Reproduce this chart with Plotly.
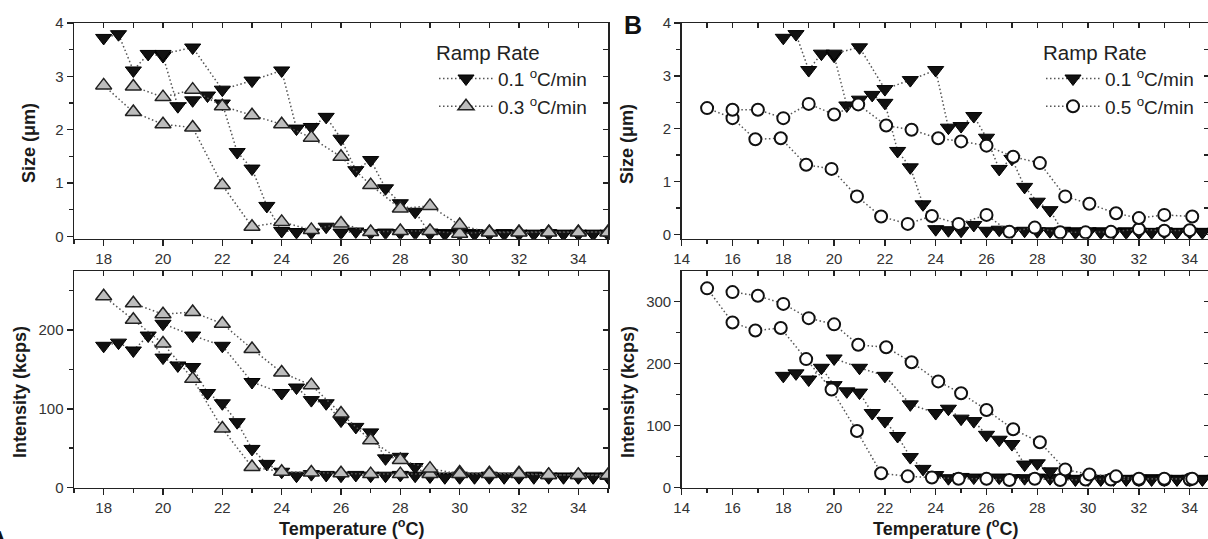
import plotly.graph_objects as go

# ---------------- data ----------------
# 0.1 C/min (black down triangles) - heating then cooling
T_01_heat = [18, 18.5, 19, 19.5, 20, 20.5, 21, 21.5, 22, 22.5, 23, 23.5, 24, 24.5, 25, 25.5,
             26, 26.5, 27, 27.5, 28, 28.5, 29, 29.5, 30, 30.5, 31, 31.5, 32, 32.5, 33, 33.5,
             34, 34.5, 35]
size_01_heat = [3.72, 3.79, 3.11, 3.42, 3.38, 2.44, 2.55, 2.64, 2.49, 1.58, 1.27, 0.57, 0.10,
                0.08, 0.07, 0.18, 0.07, 0.09, 0.06, 0.07, 0.06, 0.06, 0.07, 0.06, 0.06, 0.06,
                0.05, 0.06, 0.05, 0.05, 0.06, 0.05, 0.05, 0.05, 0.05]
int_01_heat = [180, 184, 174, 193, 165, 155, 153, 120, 107, 83, 49, 30, 20, 15, 17, 16, 15, 16,
               15, 15, 16, 15, 15, 14, 15, 14, 15, 14, 14, 15, 14, 14, 14, 14, 14]
T_01_cool = [35, 34.5, 34, 33.5, 33, 32.5, 32, 31.5, 31, 30.5, 30, 29.5, 29, 28.5, 28, 27.5,
             27, 26.5, 26, 25.5, 25, 24.5, 24, 23, 22, 21, 20]
size_01_cool = [0.04, 0.04, 0.04, 0.04, 0.04, 0.04, 0.04, 0.04, 0.04, 0.04, 0.04, 0.04, 0.05,
                0.46, 0.62, 0.90, 1.43, 1.24, 1.83, 2.24, 2.05, 2.02, 3.11, 2.92, 2.75, 3.54, 3.42]
int_01_cool = [13, 13, 13, 13, 13, 13, 13, 13, 13, 13, 13, 13, 14, 26, 39, 37, 70, 77, 85, 107,
               111, 127, 120, 134, 180, 193, 208]

# 0.3 C/min (grey up triangles)
T_03_heat = [18, 19, 20, 21, 22, 23, 24, 25, 26, 27, 28, 29, 30, 31, 32, 33, 34, 35]
size_03_heat = [2.83, 2.33, 2.10, 2.04, 0.96, 0.18, 0.27, 0.12, 0.24, 0.08, 0.10, 0.10, 0.05,
                0.08, 0.08, 0.08, 0.08, 0.08]
int_03_heat = [243, 213, 183, 138, 75, 26, 20, 19, 18, 17, 17, 17, 19, 18, 18, 16, 16, 15]
T_03_cool = [35, 34, 33, 32, 31, 30, 29, 28, 27, 26, 25, 24, 23, 22, 21, 20, 19]
size_03_cool = [0.07, 0.07, 0.07, 0.07, 0.07, 0.21, 0.57, 0.52, 0.96, 1.49, 1.85, 2.10, 2.27,
                2.44, 2.75, 2.61, 2.81]
int_03_cool = [16, 16, 16, 17, 17, 17, 24, 35, 60, 94, 130, 146, 176, 208, 223, 220, 234]

# 0.5 C/min (open circles)
T_05_heat = [15, 16, 16.9, 17.9, 18.9, 19.9, 20.9, 21.85, 22.9, 23.85, 24.9, 26, 26.9, 27.9,
             28.9, 29.9, 30.9, 32, 33, 34]
size_05_heat = [2.39, 2.20, 1.80, 1.82, 1.32, 1.24, 0.72, 0.34, 0.20, 0.35, 0.20, 0.37, 0.05,
                0.13, 0.04, 0.04, 0.05, 0.10, 0.07, 0.08]
int_05_heat = [321, 266, 253, 257, 207, 158, 91, 23, 18, 16, 14, 14, 12, 14, 12, 13, 13, 13, 13, 13]
T_05_cool = [34.1, 33, 32, 31.1, 30.05, 29.1, 28.1, 27.05, 26, 25, 24.1, 23.05, 22.05, 20.95,
             20, 19, 18, 17, 16]
size_05_cool = [0.34, 0.37, 0.31, 0.40, 0.58, 0.72, 1.35, 1.47, 1.68, 1.76, 1.82, 1.98, 2.06,
                2.46, 2.27, 2.47, 2.20, 2.36, 2.36]
int_05_cool = [14, 14, 14, 18, 21, 29, 73, 94, 125, 152, 171, 202, 226, 230, 263, 273, 296, 309, 315]

label_01 = "0.1 <sup>o</sup>C/min"
label_03 = "0.3 <sup>o</sup>C/min"
label_05 = "0.5 <sup>o</sup>C/min"

# ---------------- styles ----------------
W, H = 1208, 539
FONT = "Liberation Sans, Arial, sans-serif"
AX = "#222222"
DOT = dict(color="#555555", width=1.5, dash="1.5px,2.5px")

black_m = dict(symbol="triangle-down", size=14, color="#111111", line=dict(color="#000000", width=1))
grey_m = dict(symbol="triangle-up", size=14, color="#bdbdbd", line=dict(color="#222222", width=1.5))
circ_m = dict(symbol="circle", size=12, color="white", line=dict(color="#111111", width=2))

fig = go.Figure()

def add(x, y, xa, ya, marker, name, legend=None, show=False):
    fig.add_trace(go.Scatter(x=x, y=y, xaxis=xa, yaxis=ya, mode="lines+markers",
                             line=DOT, marker=marker, name=name, showlegend=show,
                             legend=legend if legend else "legend", cliponaxis=True))

add(T_01_heat + T_01_cool, size_01_heat + size_01_cool, "x", "y", black_m, label_01, "legend", True)
add(T_03_heat + T_03_cool, size_03_heat + size_03_cool, "x", "y", grey_m, label_03, "legend", True)
add(T_01_heat + T_01_cool, int_01_heat + int_01_cool, "x2", "y2", black_m, label_01)
add(T_03_heat + T_03_cool, int_03_heat + int_03_cool, "x2", "y2", grey_m, label_03)
add(T_01_heat + T_01_cool, size_01_heat + size_01_cool, "x3", "y3", black_m, label_01, "legend2", True)
add(T_05_heat + T_05_cool, size_05_heat + size_05_cool, "x3", "y3", circ_m, label_05, "legend2", True)
add(T_01_heat + T_01_cool, int_01_heat + int_01_cool, "x4", "y4", black_m, label_01)
add(T_05_heat + T_05_cool, int_05_heat + int_05_cool, "x4", "y4", circ_m, label_05)

# dummy traces to activate overlay (mirror) axes
for i in range(5, 9):
    fig.add_trace(go.Scatter(x=[None], y=[None], xaxis="x%d" % i, yaxis="y%d" % i,
                             showlegend=False, hoverinfo="skip", mode="markers"))

# ---------------- layout ----------------
xl = [74 / W, 608 / W]
xr = [681.7 / W, 1.0]
yt = [1 - 238.7 / H, 1 - 23 / H]
yb = [1 - 487.5 / H, 1 - 271 / H]

tickfont = dict(family=FONT, size=15, color="#333333")

def main_x(dom, anchor, rng, t0):
    return dict(domain=dom, anchor=anchor, range=rng, showgrid=False, zeroline=False,
                showline=True, linecolor=AX, linewidth=1.5, ticks="outside", ticklen=6,
                tickwidth=1.5, tickcolor=AX, tick0=t0, dtick=2, tickfont=tickfont,
                minor=dict(ticks="outside", dtick=1, ticklen=4, tickwidth=1.5, tickcolor=AX),
                fixedrange=True, automargin=False)

def main_y(dom, anchor, rng, dt):
    return dict(domain=dom, anchor=anchor, range=rng, showgrid=False, zeroline=False,
                showline=True, linecolor=AX, linewidth=1.5, ticks="outside", ticklen=6,
                tickwidth=1.5, tickcolor=AX, tick0=0, dtick=dt, tickfont=tickfont,
                minor=dict(ticks="outside", dtick=dt / 2, ticklen=4, tickwidth=1.5, tickcolor=AX),
                fixedrange=True, automargin=False)

def over_x(base, anchor, rng, t0):
    return dict(overlaying=base, anchor=anchor, side="top", range=rng, showgrid=False,
                zeroline=False, showline=True, linecolor=AX, linewidth=1.5, ticks="inside",
                ticklen=5, tickwidth=1.5, tickcolor=AX, tick0=t0, dtick=1,
                showticklabels=False, fixedrange=True, automargin=False)

def over_y(base, anchor, rng, dt, line=True, tl=5):
    return dict(overlaying=base, anchor=anchor, side="right", range=rng, showgrid=False,
                zeroline=False, showline=line, linecolor=AX, linewidth=1.5, ticks="inside",
                ticklen=tl, tickwidth=1.5, tickcolor=AX, tick0=0, dtick=dt,
                showticklabels=False, fixedrange=True, automargin=False)

r_xl = [17, 35]
r_xr = [14, 14 + (W - 681.7) / 25.4]
r_y1 = [-0.045, 4.0]
r_y2 = [0, 275]
r_y3 = [-0.08, 4.0]
r_y4 = [0, 349]

leg_font = dict(family=FONT, size=19, color="#222222")
leg_title = dict(family=FONT, size=20.5, color="#222222")

lay = dict(
    width=W, height=H, margin=dict(l=0, r=0, t=0, b=0, autoexpand=False),
    paper_bgcolor="white", plot_bgcolor="white",
    font=dict(family=FONT, color="#222222"),
    xaxis=main_x(xl, "y", r_xl, 18), yaxis=main_y(yt, "x", r_y1, 1),
    xaxis2=main_x(xl, "y2", r_xl, 18), yaxis2=main_y(yb, "x2", r_y2, 100),
    xaxis3=main_x(xr, "y3", r_xr, 14), yaxis3=main_y(yt, "x3", r_y3, 1),
    xaxis4=main_x(xr, "y4", r_xr, 14), yaxis4=main_y(yb, "x4", r_y4, 100),
    xaxis5=over_x("x", "y", r_xl, 18), yaxis5=over_y("y", "x", r_y1, 0.5),
    xaxis6=over_x("x2", "y2", r_xl, 18), yaxis6=over_y("y2", "x2", r_y2, 50),
    xaxis7=over_x("x3", "y3", r_xr, 14), yaxis7=over_y("y3", "x3", r_y3, 0.5, False, 4),
    xaxis8=over_x("x4", "y4", r_xr, 14), yaxis8=over_y("y4", "x4", r_y4, 50, False, 4),
    legend=dict(x=434 / W, y=1 - 33 / H, xanchor="left", yanchor="top",
                bgcolor="rgba(0,0,0,0)", font=leg_font,
                title=dict(text="Ramp Rate", font=leg_title), itemwidth=54),
    legend2=dict(x=1041 / W, y=1 - 33 / H, xanchor="left", yanchor="top",
                 bgcolor="rgba(0,0,0,0)", font=leg_font,
                 title=dict(text="Ramp Rate", font=leg_title), itemwidth=54),
    showlegend=True,
)
fig.update_layout(**lay)

tf = dict(family=FONT, size=18, color="#1a1a1a")
ann = [
    dict(text="<b>Size (μm)</b>", x=29 / W, y=1 - 143 / H, textangle=-90),
    dict(text="<b>Size (μm)</b>", x=627 / W, y=1 - 144 / H, textangle=-90),
    dict(text="<b>Intensity (kcps)</b>", x=20 / W, y=1 - 392 / H, textangle=-90),
    dict(text="<b>Intensity (kcps)</b>", x=628 / W, y=1 - 392 / H, textangle=-90),
    dict(text="<b>Temperature (<sup>o</sup>C)</b>", x=351 / W, y=1 - 527 / H, textangle=0),
    dict(text="<b>Temperature (<sup>o</sup>C)</b>", x=946 / W, y=1 - 527 / H, textangle=0),
]
for a in ann:
    fig.add_annotation(xref="paper", yref="paper", showarrow=False, xanchor="center",
                       yanchor="middle", font=tf, **a)
fig.add_annotation(text="<b>B</b>", xref="paper", yref="paper", x=633 / W, y=1 - 25 / H,
                   showarrow=False, xanchor="center", yanchor="middle",
                   font=dict(family=FONT, size=25, color="#111111"))
fig.add_annotation(text="<b>A</b>", xref="paper", yref="paper", x=-2 / W, y=1 - 523 / H,
                   showarrow=False, xanchor="center", yanchor="top",
                   font=dict(family=FONT, size=28, color="#111111"))

fig.write_html("out.html", config={"displayModeBar": False, "staticPlot": True},
               post_script="document.body.style.margin='0px';"
                           "document.documentElement.style.overflow='hidden';")
